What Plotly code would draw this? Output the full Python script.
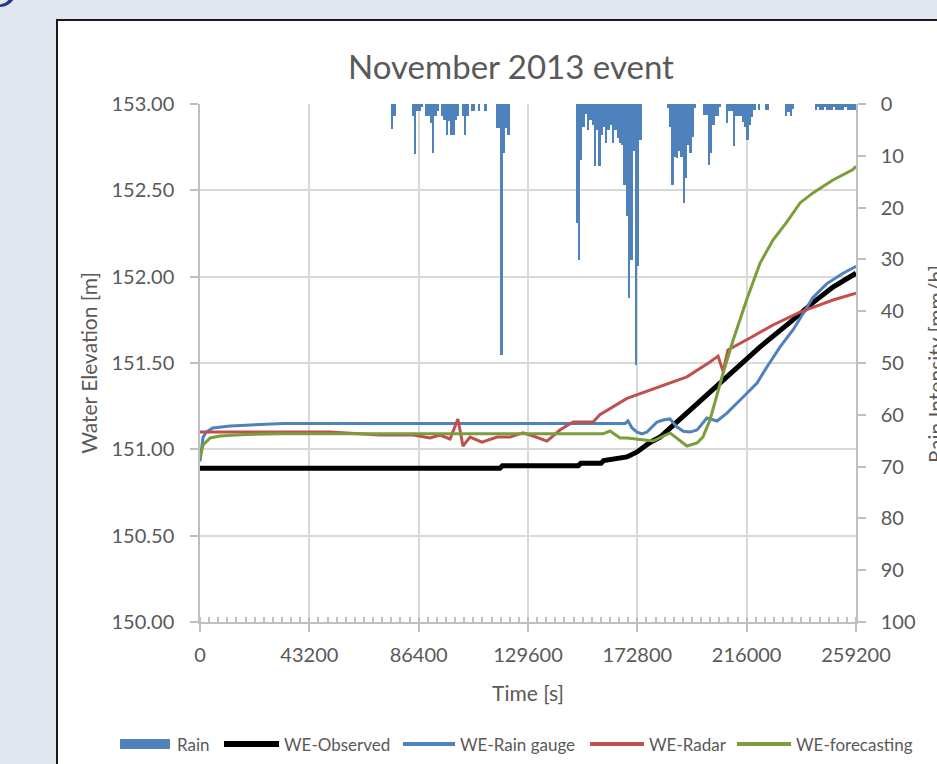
import plotly.graph_objects as go

# ---------------- data ----------------
x_tick_vals = [0, 43200, 86400, 129600, 172800, 216000, 259200]
x_tick_text = ["0", "43200", "86400", "129600", "172800", "216000", "259200"]

# rain intensity [mm/h], one value per 900 s interval (k = 0..287, 12 per row = 3 h)
rain_step = 900
rain_mmh = [
    0, 0, 0, 0, 0, 0, 0, 0, 0, 0, 0, 0,
    0, 0, 0, 0, 0, 0, 0, 0, 0, 0, 0, 0,
    0, 0, 0, 0, 0, 0, 0, 0, 0, 0, 0, 0,
    0, 0, 0, 0, 0, 0, 0, 0, 0, 0, 0, 0,
    0, 0, 0, 0, 0, 0, 0, 0, 0, 0, 0, 0,
    0, 0, 0, 0, 0, 0, 0, 0, 0, 0, 0, 0,
    0, 0, 0, 0, 0, 0, 0, 0, 0, 0, 0, 0,
    4.8, 2.4, 0, 0, 0, 0, 0, 0, 0, 2.4, 9.7, 1.4,
    1.4, 0.5, 0, 2.4, 2.4, 3.7, 9.5, 2.4, 1.3, 0, 2.4, 3.0,
    5.9, 3.2, 6.0, 6.0, 3.0, 2.4, 0, 2.4, 5.9, 2.4, 0, 1.3,
    1.3, 0, 1.3, 0, 0, 1.3, 0, 0, 0, 0, 4.6, 4.6,
    48.5, 9.5, 4.6, 6.0, 0, 0, 0, 0, 0, 0, 0, 0,
    0, 0, 0, 0, 0, 0, 0, 0, 0, 0, 0, 0,
    0, 0, 0, 0, 0, 0, 0, 0, 0, 23.0, 30.2, 10.8,
    4.5, 2.0, 5.0, 3.0, 4.0, 12.0, 5.0, 12.0, 6.0, 4.5, 7.5, 5.0,
    4.0, 7.5, 5.0, 6.5, 7.5, 8.0, 15.6, 21.6, 37.5, 30.2, 9.0, 50.4,
    31.3, 7.0, 0, 0, 0, 0, 0, 0, 0, 0, 0, 0,
    0, 0.7, 4.5, 15.6, 10.2, 10.4, 9.0, 10.2, 19.1, 14.3, 8.0, 9.5,
    6.4, 0.8, 0, 0, 0, 2.1, 2.1, 11.8, 9.5, 4.0, 2.4, 2.4,
    0.5, 0, 0, 3.7, 1.4, 1.4, 8.1, 2.4, 2.4, 2.4, 3.5, 4.5,
    6.9, 4.0, 2.5, 1.2, 0, 1.1, 0, 0, 1.1, 1.1, 0, 0,
    0, 0, 0, 0, 0, 2.4, 1.5, 2.4, 1.0, 0, 0, 0,
    0, 0, 0, 0, 0, 0, 1.1, 0.6, 1.1, 1.1, 0.6, 1.1,
    1.1, 1.1, 0.6, 1.1, 1.1, 1.1, 1.1, 0.6, 1.1, 1.1, 1.1, 1.1,
]
rain_time = [k * rain_step + rain_step / 2 for k in range(len(rain_mmh))]

obs_time = [0, 25000, 30000, 38000, 45000, 118500, 119500, 149500, 150500, 158500,
            159500, 164000, 168700, 172700, 177800, 181800, 194800, 208200, 221300,
            234300, 242200, 250100, 259200]
obs_we = [150.89, 150.89, 150.885, 150.885, 150.89, 150.89, 150.905, 150.905, 150.92, 150.92,
          150.935, 150.945, 150.956, 150.985, 151.04, 151.071, 151.245, 151.419, 151.593,
          151.75, 151.85, 151.94, 152.02]

gauge_time = [0, 1200, 2500, 5000, 12000, 20000, 31000, 33000, 168000, 169100, 170700,
              172700, 174650, 176600, 180600, 183000, 185700, 188500, 191000, 193600,
              196400, 200300, 204300, 208200, 214600, 220100, 224000, 229200, 234300,
              238300, 242200, 247700, 254100, 259200]
gauge_we = [150.93, 151.07, 151.10, 151.124, 151.135, 151.14, 151.145, 151.15, 151.15, 151.165,
            151.124, 151.10, 151.089, 151.10, 151.158, 151.17, 151.176, 151.129, 151.105, 151.10,
            151.112, 151.181, 151.164, 151.21, 151.303, 151.384, 151.477, 151.593, 151.691,
            151.79, 151.88, 151.96, 152.02, 152.06]

radar_time = [0, 51400, 71100, 84200, 90900, 94800, 98800, 101900, 103900, 106700, 111400,
              117400, 122500, 127600, 131600, 137100, 142200, 147400, 155300, 158000, 168700,
              181800, 192400, 201500, 204700, 206700, 208600, 217300, 226400, 237100, 250100,
              259200]
radar_we = [151.10, 151.10, 151.083, 151.083, 151.066, 151.083, 151.06, 151.176, 151.019,
            151.071, 151.042, 151.071, 151.071, 151.095, 151.077, 151.048, 151.112, 151.158,
            151.158, 151.20, 151.295, 151.363, 151.42, 151.506, 151.54, 151.45, 151.575,
            151.645, 151.72, 151.795, 151.865, 151.905]

fc_time = [0, 1200, 4000, 7900, 15800, 31600, 159200, 162000, 166000, 168700, 179000,
           185700, 192400, 196400, 198700, 201500, 206700, 210600, 216100, 221300, 226400,
           231900, 237100, 242200, 250100, 258000, 259200]
fc_we = [150.95, 151.025, 151.066, 151.077, 151.085, 151.09, 151.09, 151.106, 151.066, 151.066,
         151.048, 151.095, 151.019, 151.037, 151.071, 151.17, 151.442, 151.63, 151.87, 152.079,
         152.212, 152.317, 152.427, 152.485, 152.56, 152.62, 152.64]

legend_names = ["Rain", "WE-Observed", "WE-Rain gauge", "WE-Radar", "WE-forecasting"]

# ---------------- styling ----------------
FONT = "Lato, 'Open Sans', sans-serif"
TXT = "#595959"
GRID = "#d9d9d9"
AXL = "#bfbfbf"
BLUE = "#4F81BD"
RED = "#C0504D"
GREEN = "#7B9D3C"
series_colors = [BLUE, "#000000", BLUE, RED, GREEN]
series_widths = [0, 5, 3, 3, 3]

fig = go.Figure()
fig.add_trace(go.Bar(x=rain_time, y=rain_mmh, width=rain_step * 0.8, name=legend_names[0],
                     marker=dict(color=BLUE, line=dict(width=0)), yaxis="y2"))
for name, t, v, c, w in zip(legend_names[1:], [obs_time, gauge_time, radar_time, fc_time],
                            [obs_we, gauge_we, radar_we, fc_we], series_colors[1:],
                            series_widths[1:]):
    fig.add_trace(go.Scatter(x=t, y=v, mode="lines", name=name, line=dict(color=c, width=w)))

W, H = 937, 764
L, R, T, B = 200, 81, 104, 142
pw, ph = W - L - R, H - T - B


def px(x):
    return (x - L) / pw


def py(y):
    return (H - B - y) / ph


fig.update_layout(
    width=W, height=H, autosize=False,
    margin=dict(l=L, r=R, t=T, b=B, pad=0),
    paper_bgcolor="#e2e6ee",
    plot_bgcolor="white",
    font=dict(family=FONT, color=TXT),
    bargap=0,
    showlegend=False,
    title=dict(text="November 2013 event", x=511 / W, xanchor="center",
               y=1 - 67 / H, yanchor="middle", font=dict(size=33, color=TXT)),
    xaxis=dict(range=[0, 259200], tickmode="array", tickvals=x_tick_vals, ticktext=x_tick_text,
               showgrid=True, gridcolor=GRID, gridwidth=1.5, zeroline=False,
               showline=True, linecolor=AXL, linewidth=1.5,
               ticks="outside", ticklen=8, tickcolor=AXL, tickwidth=1.5,
               tickfont=dict(size=20, color=TXT), ticklabelstandoff=6,
               minor=dict(dtick=3600, tick0=0, ticks="inside", ticklen=5, tickcolor=AXL,
                          showgrid=False),
               title=dict(text="Time [s]", font=dict(size=21, color=TXT), standoff=22)),
    yaxis=dict(range=[150, 153], dtick=0.5, tick0=150, tickformat=".2f",
               showgrid=True, gridcolor=GRID, gridwidth=1.5, zeroline=False,
               showline=True, linecolor=AXL, linewidth=1.5,
               ticks="outside", ticklen=8, tickcolor=AXL, tickwidth=1.5,
               tickfont=dict(size=20, color=TXT), ticklabelstandoff=12,
               title=dict(text="Water Elevation [m]", font=dict(size=21, color=TXT), standoff=8)),
    yaxis2=dict(range=[100, 0], dtick=10, tick0=0, overlaying="y", side="right",
                showgrid=False, zeroline=False, showline=True, linecolor=AXL, linewidth=1.5,
                ticks="outside", ticklen=8, tickcolor=AXL, tickwidth=1.5,
                tickfont=dict(size=20, color=TXT), ticklabelstandoff=11),
)

# right-axis title (cut off by the page edge as in the original)
fig.add_annotation(text="Rain Intensity [mm/h]", xref="paper", yref="paper",
                   x=px(935), y=py(364), xanchor="center", yanchor="middle",
                   textangle=-90, showarrow=False, font=dict(size=21, color=TXT))

# white chart panel with black border
fig.add_shape(type="rect", xref="paper", yref="paper",
              x0=px(57), y0=py(790), x1=px(960), y1=py(20),
              fillcolor="white", line=dict(color="#1a1a1a", width=2), layer="below")

# fragment of a dark-blue emblem in the top-left corner
p = lambda x, y: f"{px(x):.5f},{py(y):.5f}"
fig.add_shape(type="path", xref="paper", yref="paper",
              path=f"M{p(-1,7)} Q{p(9,7)} {p(14,-1)} L{p(9,-1)} Q{p(6,4)} {p(-1,4.5)} Z",
              fillcolor="#1f3c88", line=dict(width=0), layer="above")

# legend drawn below the plot, Excel style
ly = py(744)
sym_x = [(120, 170), (224, 279), (403, 455), (590, 644), (737, 791)]
txt_x = [175, 282, 458, 647, 794]
for i, name in enumerate(legend_names):
    a, b = sym_x[i]
    if i == 0:
        fig.add_shape(type="rect", xref="paper", yref="paper", x0=px(a), x1=px(b),
                      y0=py(749), y1=py(739), fillcolor=BLUE, line=dict(width=0))
    else:
        fig.add_shape(type="line", xref="paper", yref="paper", x0=px(a), x1=px(b),
                      y0=ly, y1=ly, line=dict(color=series_colors[i], width=series_widths[i] + 1))
    fig.add_annotation(text=name, xref="paper", yref="paper", x=px(txt_x[i]), y=ly,
                       xanchor="left", yanchor="middle", showarrow=False,
                       font=dict(size=17, color=TXT))

fig.write_html(
    "out.html",
    config={"displayModeBar": False},
    post_script="document.body.style.margin='0';document.documentElement.style.overflow='hidden';",
)
